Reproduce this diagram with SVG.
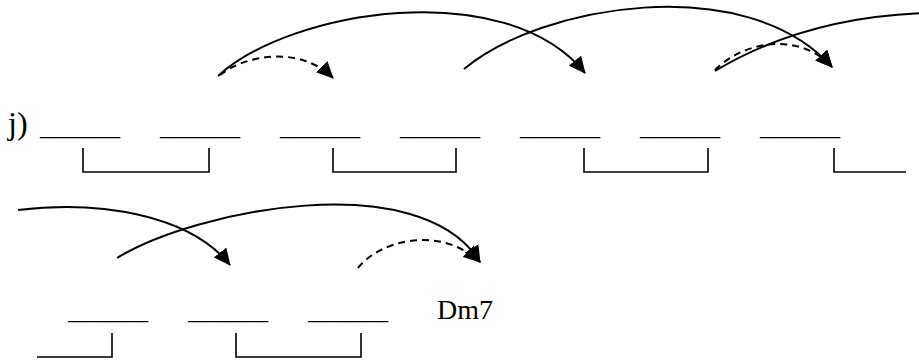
<svg xmlns="http://www.w3.org/2000/svg" width="919" height="360" viewBox="0 0 919 360">
<style>
  .t { font-family: "Liberation Serif", "Times New Roman", serif; font-size: 27px; fill: #000; }
  .br { fill: none; stroke: #000; stroke-width: 1.6; }
  .arc { fill: none; stroke: #000; stroke-width: 2; }
  .dash { stroke-dasharray: 7 5; }
</style>
<defs>
  <marker id="ah" markerUnits="userSpaceOnUse" markerWidth="18" markerHeight="16" viewBox="0 0 18 16" refX="16" refY="8" orient="auto">
    <path d="M0,0 L17,8 L0,16 z" fill="#000"/>
  </marker>
</defs>
<rect width="919" height="360" fill="#fff"/>
<g id="row1">
  <text class="t" x="8" y="134" style="font-size:32px">j)</text>
  <text class="t" x="40" y="135" textLength="80" lengthAdjust="spacingAndGlyphs">______</text>
  <text class="t" x="160" y="135" textLength="80" lengthAdjust="spacingAndGlyphs">______</text>
  <text class="t" x="280" y="135" textLength="80" lengthAdjust="spacingAndGlyphs">______</text>
  <text class="t" x="400" y="135" textLength="80" lengthAdjust="spacingAndGlyphs">______</text>
  <text class="t" x="520" y="135" textLength="80" lengthAdjust="spacingAndGlyphs">______</text>
  <text class="t" x="640" y="135" textLength="80" lengthAdjust="spacingAndGlyphs">______</text>
  <text class="t" x="760" y="135" textLength="80" lengthAdjust="spacingAndGlyphs">______</text>
</g>
<g id="brackets1">
  <path class="br" d="M83,148 V172 H209 V148"/>
  <path class="br" d="M333,148 V172 H456 V148"/>
  <path class="br" d="M584,148 V172 H708 V148"/>
  <path class="br" d="M834,148 V172 H906"/>
</g>
<g id="row2">
  <text class="t" x="68" y="319" textLength="80" lengthAdjust="spacingAndGlyphs">______</text>
  <text class="t" x="188" y="319" textLength="80" lengthAdjust="spacingAndGlyphs">______</text>
  <text class="t" x="308" y="319" textLength="80" lengthAdjust="spacingAndGlyphs">______</text>
  <text class="t" x="437" y="319" style="font-size:28px">Dm7</text>
</g>
<g id="brackets2">
  <path class="br" d="M37,357 H112 V333"/>
  <path class="br" d="M236,333 V357 H361 V333"/>
</g>
<g id="connectors">
  <path class="arc" d="M218,76 C290,10 505,-25 585,73" marker-end="url(#ah)"/>
  <path class="arc dash" d="M220,75 C245,55 300,45 333,78" marker-end="url(#ah)"/>
  <path class="arc" d="M464,69 C540,5 745,-30 832,67" marker-end="url(#ah)"/>
  <path class="arc" d="M715,71 C770,38 840,16 925,13"/>
  <path class="arc dash" d="M715,70 C745,40 800,32 832,67" marker-end="url(#ah)"/>
  <path class="arc" d="M18,210 C100,200 190,215 230,265" marker-end="url(#ah)"/>
  <path class="arc" d="M117,258 C195,210 420,165 480,262" marker-end="url(#ah)"/>
  <path class="arc dash" d="M358,268 C380,240 440,225 480,262" marker-end="url(#ah)"/>
</g>
</svg>
